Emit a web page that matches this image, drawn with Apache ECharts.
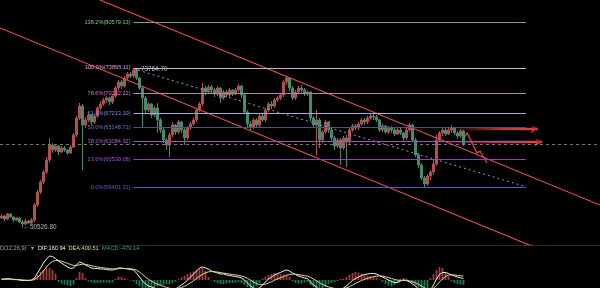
<!DOCTYPE html>
<html><head><meta charset="utf-8">
<script src="https://cdn.jsdelivr.net/npm/echarts@6/dist/echarts.min.js"></script>
<style>html,body{margin:0;padding:0;background:#000;}#c{width:600px;height:288px;}</style>
</head><body><div id="c"></div>
<script>
// ---- DATA ----
const opens=[51904,52197,51757,52490,52050,51611,51904,51318,51025,51464,
51171,51611,53808,55713,57178,58643,60401,62598,61866,62452,
61573,62159,61866,61426,62305,64063,66554,68312,65528,66261,
66993,65968,66847,68019,68605,69191,69484,68898,69777,70949,
71828,71242,72414,73000,72707,73586,72414,70949,69484,67726,
68605,66993,68019,66261,64796,63331,62598,64063,65528,64503,
65968,64796,63624,65089,65675,66261,67726,68605,70949,70363,
71095,70656,70070,70949,69484,70363,69923,70656,70070,70656,
71242,69923,67433,65675,65235,66261,65528,66847,66261,67726,
68605,68312,69191,69484,69923,71828,72414,70949,69484,70363,
70949,70656,70070,70363,66554,65528,66261,63331,64503,65968,
64796,63624,62452,63331,62159,63624,63038,64796,65382,65089,
65675,66261,65968,66554,66847,66700,66261,64796,65382,64503,
65089,64796,64210,64796,64356,63624,64796,65528,63331,61133,
59668,57764,56885,58057,58643,59815,63331,64356,64796,64210,
64796,65089,64356,63917,64649];
const closes=[52197,51757,52490,52050,51611,51904,51318,51025,51464,51171,
51611,53808,55713,57178,58643,60401,62598,61866,62452,61573,
62159,61866,61426,62305,64063,66554,68312,65528,66261,66993,
65968,66847,68019,68605,69191,69484,68898,69777,70949,71828,
71242,72414,73000,72707,73586,72414,70949,69484,67726,68605,
66993,68019,66261,64796,63331,62598,64063,65528,64503,65968,
64796,63624,65089,65675,66261,67726,68605,70949,70363,71095,
70656,70070,70949,69484,70363,69923,70656,70070,70656,71242,
69923,67433,65675,65235,66261,65528,66847,66261,67726,68605,
68312,69191,69484,69923,71828,72414,70949,69484,70363,70949,
70656,70070,70363,66554,65528,66261,63331,64503,65968,64796,
63624,62452,63331,62159,63624,63038,64796,65382,65089,65675,
66261,65968,66554,66847,66700,66261,64796,65382,64503,65089,
64796,64210,64796,64356,63624,64796,65528,63331,61133,59668,
57764,56885,58057,58643,59815,63331,64356,64796,64210,64796,
65089,64356,63917,64649,62650];
const lows=[51757,51464,51611,51904,51318,51464,51171,50526.80,50878,51025,
51025,51318,53515,55420,56885,58350,60108,61426,61573,61133,
61426,61573,61133,61280,62159,63770,66261,58936,65089,65968,
65528,65675,66554,67726,68312,68751,68458,68605,69484,70656,
70802,70949,72121,72414,72414,72121,70656,65235,67140,67433,
66554,66700,64356,64356,62891,61866,60840,63770,64063,64210,
64356,62598,63331,64796,65382,65968,67433,68312,69923,70070,
70216,69630,69777,68751,69191,69630,69630,69777,69923,70363,
69484,67140,65235,64796,64942,65235,65235,65968,65968,67433,
67872,68019,68898,69191,69630,71388,70509,69191,69191,70070,
70216,69777,69777,66114,65089,61133,62159,62891,64210,64356,
63184,61866,62159,59668,61866,59375,62745,64503,64796,64796,
65382,65528,65675,66261,66261,65968,64503,64503,64210,64210,
64356,63917,64063,64063,63038,63331,64503,63038,60840,59229,
57471,56445,56592,57471,58203,59522,63038,63917,63917,64063,
64356,64063,63477,63624,62452];
const highs=[52490,52343,52636,52636,52197,52050,52050,51611,51757,51611,
51904,54101,56006,57471,58936,60840,63624,62891,62745,62598,
62452,62452,62012,62598,64356,66847,68751,68605,66700,67286,
67140,67140,68312,69044,69484,69777,69630,70070,71242,72121,
72121,72707,73293,73293,73764.70,73732,72560,71242,69777,68898,
68751,68312,68751,66554,65089,63624,64356,65968,65675,66261,
66114,65089,65382,65968,66554,68019,68898,71681,71242,71388,
71388,70949,71242,71095,70656,70656,70949,70802,70949,71535,
71388,70216,67726,66114,66554,66554,67140,67140,68019,68898,
69044,69484,69777,70216,72121,72707,72560,71242,70656,71242,
71388,70949,70656,70509,66847,67726,66554,64796,66261,66114,
65089,63917,63624,63624,63917,64063,65089,65675,65675,65968,
66554,66554,66847,67140,67140,66993,66407,65675,65528,65382,
65382,65089,65089,65089,64503,65089,65821,65675,63624,61426,
59961,58057,58350,58936,60401,64063,64649,65089,65089,65089,
65528,65235,64649,64942,64796];
const dif=[100,100,150,100,50,50,0,-50,-50,-50,
0,200,700,1200,1700,2100,2400,2350,2150,1900,
1700,1500,1300,1150,1200,1500,1800,1700,1500,1350,
1200,1150,1150,1100,1100,1050,1000,1000,1100,1200,
1200,1150,1100,1050,1000,700,300,-100,-400,-600,
-700,-800,-900,-900,-1000,-1100,-1100,-1000,-900,-700,
-500,-300,0,300,600,900,1200,1300,1200,1100,
900,800,700,600,600,500,450,400,350,300,
200,0,-300,-600,-800,-900,-800,-500,-200,100,
300,500,650,750,900,1000,900,700,550,400,
300,200,150,-200,-500,-700,-1000,-1100,-1100,-1100,
-1100,-1150,-1100,-1000,-800,-600,-300,-50,150,300,
450,550,600,650,650,600,450,300,150,0,
-150,-250,-250,-100,0,-50,-200,-400,-600,-900,
-1200,-1400,-1400,-1000,-500,100,550,750,750,650,
500,400,300,220,160.94];
const dea=[70,70,90,80,70,60,40,10,-10,-30,
-20,40,250,550,920,1300,1650,1850,1950,1950,
1880,1780,1670,1550,1460,1460,1530,1580,1560,1500,
1430,1360,1300,1250,1210,1180,1140,1110,1110,1130,
1150,1150,1140,1120,1080,980,800,550,300,70,
-120,-280,-420,-530,-640,-740,-820,-860,-860,-830,
-750,-630,-470,-280,-70,150,370,570,720,820,
840,830,790,740,690,640,600,550,510,460,
400,310,170,-10,-200,-360,-460,-470,-410,-300,
-170,-20,110,230,350,470,560,590,580,540,
490,430,380,260,100,-80,-270,-450,-580,-690,
-770,-840,-890,-900,-870,-790,-670,-510,-350,-200,
-60,70,170,260,340,390,410,380,320,240,
150,60,-10,-40,-50,-60,-100,-180,-280,-430,
-600,-780,-920,-950,-830,-550,-200,100,350,500,
520,500,460,420,400.51];
const macd=[50,50,100,50,-30,-50,-80,-100,-80,-50,
0,200,500,800,1000,1150,1200,1000,650,-200,
-350,-450,-550,-600,-450,200,800,700,200,-150,
-250,-300,-300,-300,-250,-250,-300,-250,100,350,
300,200,50,-50,-150,-400,-600,-800,-900,-850,
-750,-700,-650,-550,-500,-450,-400,-300,-150,100,
250,400,600,750,850,950,1100,1200,900,300,
-50,-200,-300,-400,-400,-350,-300,-300,-250,-250,
-300,-500,-700,-800,-800,-600,-300,150,350,500,
600,700,650,600,550,500,300,-150,-300,-350,
-350,-250,-200,-500,-700,-800,-900,-900,-700,-400,
-300,-200,-100,100,150,300,550,700,800,750,
650,550,450,400,300,200,50,-200,-400,-550,
-650,-500,-200,100,200,150,-100,-300,-550,-750,
-850,-900,-800,200,600,1000,1300,1200,800,400,
-150,-300,-400,-450,-479.14];
const fibPct=['138.2%','100.0%','78.6%','61.8%','50.0%','38.2%','23.6%','0.0%'];
const fibPrice=[80579.13,73895.11,70132.22,67213.10,65148.71,63084.32,60530.08,56401.31];
const fibEndIndex=175.3;
const upperChannel=[[0,89848],[200,53808]];
const lowerChannel=[[0,79739],[200,43700]];
const trendLine=[[44.5,73764.70],[174.5,56592]];
const targetArrows=[[[150.7,65000],[179.3,65000]],[[145.7,63084.32],[180.7,63084.32]]];
const projection=[[154.0,63038],[155.7,64356],[159.0,61426],[160.0,61719],[162.3,59961]];

// ---- STYLE ----
const fibLineColors=['#7f9f7f','#d2b2d2','#b08aae','#a4acd8','#4c5478','#9458b8','#8a48b0','#5454c4'];
const fibLabelColors=['#7ccf7c','#e0a0d8','#e070c8','#7f8fe8','#6a78d0','#b45ae0','#a050d8','#5a5ae0'];
const FONT='Liberation Sans';
const UP='#b25050', DOWN='#428d70';

const N=200;
const cats=[];for(let i=0;i<N;i++)cats.push(i);
const kdata=[];for(let i=0;i<N;i++){kdata.push(i<opens.length?[opens[i],closes[i],lows[i],highs[i]]:'-');}
const pad=a=>{const r=a.slice();while(r.length<N)r.push('-');return r;};

let peakI=0,lowI=0;
highs.forEach((v,i)=>{if(v>highs[peakI])peakI=i;});
lows.forEach((v,i)=>{if(v<lows[lowI])lowI=i;});
const fibStart=peakI+0.5;
const last=closes.length-1;

const chart=echarts.init(document.getElementById('c'),null,{renderer:'canvas'});
const lblStyle={fontSize:5.6,fontFamily:FONT};
chart.setOption({
  backgroundColor:'#000',
  animation:false,
  grid:[{left:0,right:0,top:0,height:245},{left:0,right:0,top:246,height:42}],
  xAxis:[
    {type:'category',data:cats,gridIndex:0,boundaryGap:true,axisLabel:{show:false},axisTick:{show:false},axisLine:{show:true,lineStyle:{color:'#2a2a2a',width:1}},splitLine:{show:false}},
    {type:'value',min:0,max:N,gridIndex:0,show:false,splitLine:{show:false}},
    {type:'category',data:cats,gridIndex:1,boundaryGap:true,show:false}
  ],
  yAxis:[
    {type:'value',min:47948,max:83841,gridIndex:0,show:false,splitLine:{show:false}},
    {type:'value',min:-800,max:3400,gridIndex:1,show:false,splitLine:{show:false}}
  ],
  series:[
    {type:'candlestick',xAxisIndex:0,yAxisIndex:0,data:kdata,barWidth:1.6,
     itemStyle:{color:UP,color0:DOWN,borderColor:UP,borderColor0:DOWN,borderWidth:1},
     markLine:{silent:true,symbol:['none','none'],label:{show:false},
       lineStyle:{color:'#7a7a7a',type:[3,3],width:1},data:[{yAxis:closes[last]}]}},
    {type:'line',xAxisIndex:1,yAxisIndex:0,data:[],silent:true,
     markLine:{silent:true,symbol:['none','none'],
       label:Object.assign({show:true,position:'start',distance:3},lblStyle),
       lineStyle:{type:'solid',width:1},
       data:fibPrice.map((p,k)=>[{coord:[fibStart,p],lineStyle:{color:fibLineColors[k]},
          label:{formatter:fibPct[k]+'('+p.toFixed(2)+')',color:fibLabelColors[k]}},{coord:[fibEndIndex,p]}])}},
    {type:'line',xAxisIndex:1,yAxisIndex:0,data:upperChannel,showSymbol:false,symbol:'none',clip:true,lineStyle:{color:'#e8504f',width:1.1}},
    {type:'line',xAxisIndex:1,yAxisIndex:0,data:lowerChannel,showSymbol:false,symbol:'none',clip:true,lineStyle:{color:'#e8504f',width:1.1}},
    {type:'line',xAxisIndex:1,yAxisIndex:0,data:trendLine,showSymbol:false,symbol:'none',lineStyle:{color:'#8a9cc4',width:1,type:[2,3]}},
    {type:'lines',coordinateSystem:'cartesian2d',xAxisIndex:1,yAxisIndex:0,polyline:false,
     symbol:['none','arrow'],symbolSize:7,
     lineStyle:{width:2.4,opacity:1,color:new echarts.graphic.LinearGradient(0,0,1,0,[{offset:0,color:'rgba(120,20,20,0.15)'},{offset:0.55,color:'#b83434'},{offset:1,color:'#f04848'}])},
     data:targetArrows.map(c=>({coords:c}))},
    {type:'lines',coordinateSystem:'cartesian2d',xAxisIndex:1,yAxisIndex:0,polyline:true,
     symbol:['none','arrow'],symbolSize:5,
     lineStyle:{width:1.2,opacity:1,color:'#e84848'},
     data:[{coords:projection}]},
    {type:'scatter',xAxisIndex:1,yAxisIndex:0,symbolSize:0,silent:true,
     label:Object.assign({show:true,position:'right',distance:1,color:'#dddddd'},lblStyle,{fontSize:6.4}),
     data:[{value:[peakI+0.5,highs[peakI]],label:{formatter:'\u2190'+highs[peakI].toFixed(2)}},
           {value:[lowI+0.5,lows[lowI]],label:{formatter:'\u2190'+lows[lowI].toFixed(2)}}]},
    {type:'bar',xAxisIndex:2,yAxisIndex:1,data:pad(macd),barWidth:1.8,
     itemStyle:{color:p=>p.value>=0?'#9a4040':'#22795a'}},
    {type:'line',xAxisIndex:2,yAxisIndex:1,data:pad(dif),showSymbol:false,symbol:'none',clip:true,lineStyle:{color:'#f2f2f2',width:1}},
    {type:'line',xAxisIndex:2,yAxisIndex:1,data:pad(dea),showSymbol:false,symbol:'none',clip:true,lineStyle:{color:'#e8d98a',width:1}}
  ],
  graphic:[
    {type:'text',x:-12.5,y:248,style:{text:'MACD(12,26,9)',fill:'#a0a0a0',fontSize:5.6,fontFamily:FONT,verticalAlign:'middle'}},
    {type:'text',x:31,y:248,style:{text:'\u25BE',fill:'#a0a0a0',fontSize:5.6,fontFamily:FONT,verticalAlign:'middle'}},
    {type:'text',x:38,y:248,style:{text:'DIF:'+dif[last].toFixed(2),fill:'#eeeeee',fontSize:5.6,fontFamily:FONT,verticalAlign:'middle'}},
    {type:'text',x:68.5,y:248,style:{text:'DEA:'+dea[last].toFixed(2),fill:'#e8d98a',fontSize:5.6,fontFamily:FONT,verticalAlign:'middle'}},
    {type:'text',x:102,y:248,style:{text:'MACD:'+macd[last].toFixed(2),fill:'#3aa070',fontSize:5.6,fontFamily:FONT,verticalAlign:'middle'}}
  ]
});
</script></body></html>
